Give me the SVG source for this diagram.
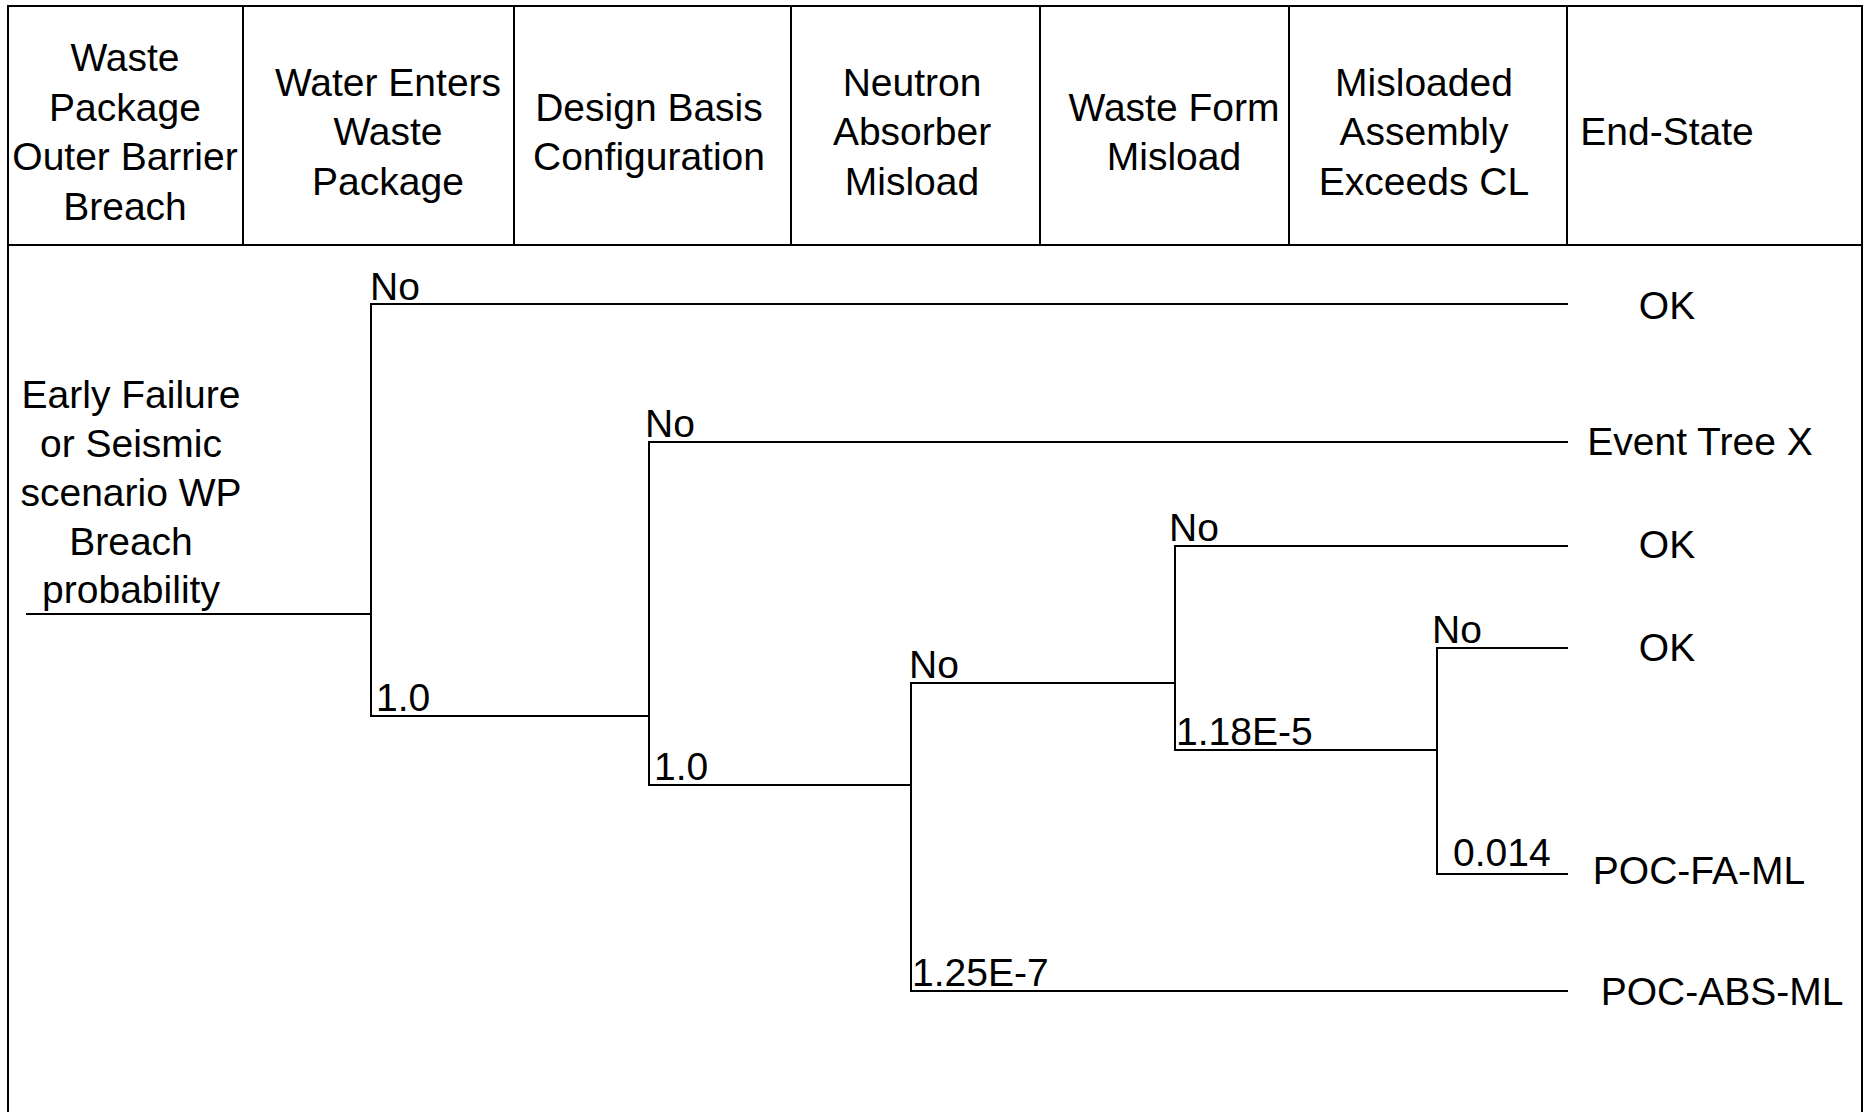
<svg xmlns="http://www.w3.org/2000/svg" width="1865" height="1112" viewBox="0 0 1865 1112">
<style>
text{font-family:"Liberation Sans",Arial,sans-serif;font-size:39px;fill:#000}
.c{text-anchor:middle}
.ln{stroke:#000;stroke-width:2;fill:none}
</style>
<rect x="0" y="0" width="1865" height="1112" fill="#fff"/>
<g id="frame" class="ln">
<path d="M8,1120 V6 H1862 V1120"/>
<line x1="8" y1="245" x2="1862" y2="245"/>
<line x1="243" y1="6" x2="243" y2="245"/>
<line x1="514" y1="6" x2="514" y2="245"/>
<line x1="791" y1="6" x2="791" y2="245"/>
<line x1="1040" y1="6" x2="1040" y2="245"/>
<line x1="1289" y1="6" x2="1289" y2="245"/>
<line x1="1567" y1="6" x2="1567" y2="245"/>
</g>
<g id="header">
<text class="c" x="125" y="71">Waste</text>
<text class="c" x="125" y="121">Package</text>
<text class="c" x="125" y="170">Outer Barrier</text>
<text class="c" x="125" y="220">Breach</text>
<text class="c" x="388" y="96">Water Enters</text>
<text class="c" x="388" y="145">Waste</text>
<text class="c" x="388" y="195">Package</text>
<text class="c" x="649" y="121">Design Basis</text>
<text class="c" x="649" y="170">Configuration</text>
<text class="c" x="912" y="96">Neutron</text>
<text class="c" x="912" y="145">Absorber</text>
<text class="c" x="912" y="195">Misload</text>
<text class="c" x="1174" y="121">Waste Form</text>
<text class="c" x="1174" y="170">Misload</text>
<text class="c" x="1424" y="96">Misloaded</text>
<text class="c" x="1424" y="145">Assembly</text>
<text class="c" x="1424" y="195">Exceeds CL</text>
<text class="c" x="1667" y="145">End-State</text>
</g>
<g id="initiator">
<text class="c" x="131" y="408">Early Failure</text>
<text class="c" x="131" y="457">or Seismic</text>
<text class="c" x="131" y="506">scenario WP</text>
<text class="c" x="131" y="555">Breach</text>
<text class="c" x="131" y="603">probability</text>
</g>
<g id="connectors" class="ln">
<line x1="26" y1="614" x2="371" y2="614"/>
<path d="M1568,304 H371 V716 H649"/>
<path d="M1568,442 H649 V785 H911"/>
<path d="M1175,683 H911 V991 H1568"/>
<path d="M1568,546 H1175 V750 H1437"/>
<path d="M1568,648 H1437 V874 H1568"/>
</g>
<g id="branch-labels">
<text x="370" y="300">No</text>
<text x="376" y="711">1.0</text>
<text x="645" y="437">No</text>
<text x="654" y="780">1.0</text>
<text x="909" y="678">No</text>
<text x="912" y="986">1.25E-7</text>
<text x="1169" y="541">No</text>
<text x="1176" y="745">1.18E-5</text>
<text x="1432" y="643">No</text>
<text x="1453" y="866">0.014</text>
</g>
<g id="end-states">
<text class="c" x="1667" y="319">OK</text>
<text class="c" x="1700" y="455">Event Tree X</text>
<text class="c" x="1667" y="558">OK</text>
<text class="c" x="1667" y="661">OK</text>
<text class="c" x="1699" y="884">POC-FA-ML</text>
<text class="c" x="1722" y="1005">POC-ABS-ML</text>
</g>
</svg>
